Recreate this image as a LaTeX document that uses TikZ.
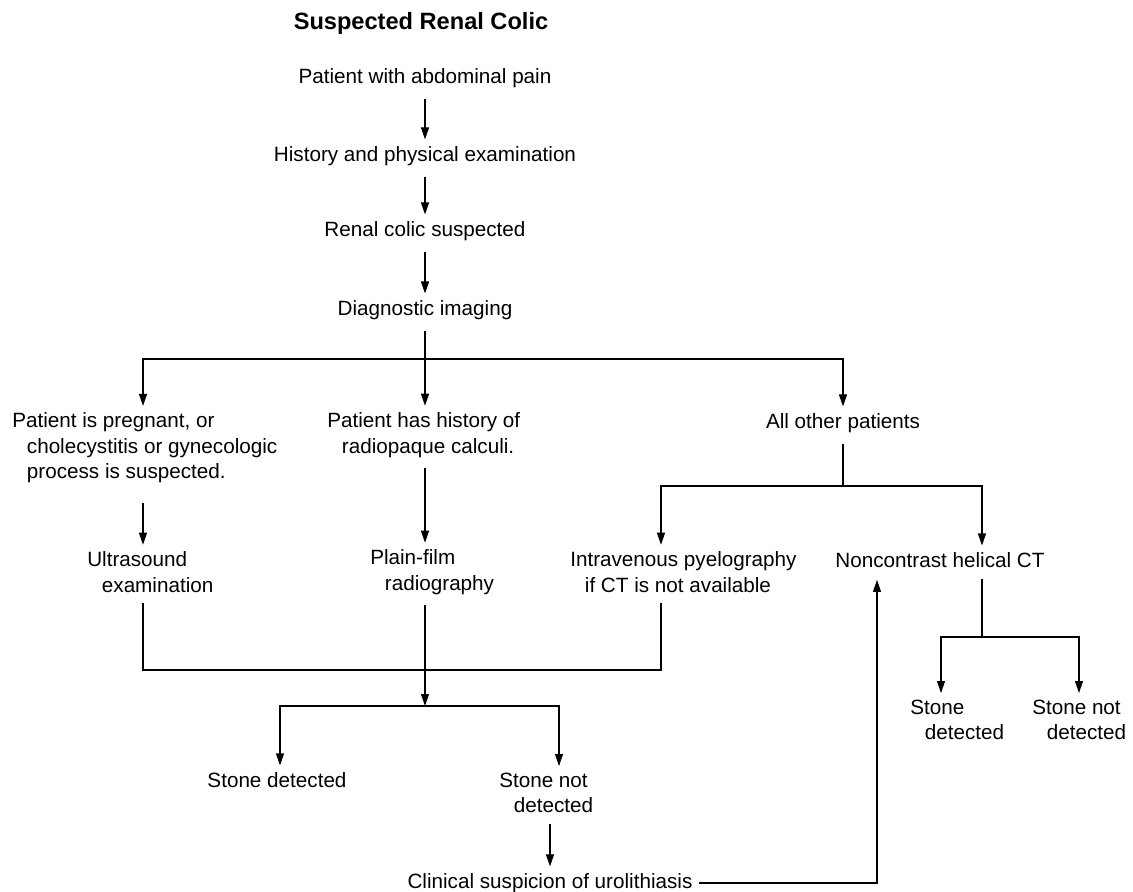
\documentclass[tikz,border=0pt]{standalone}
\usepackage{fontspec}
\setmainfont{Liberation Sans}
\usepackage{tikz}
\usetikzlibrary{arrows.meta}
\newcommand{\ind}{\hspace*{11pt}}

\begin{document}
\begin{tikzpicture}[x=0.75pt, y=-0.75pt,
	every node/.style={inner sep=0pt, font=\fontsize{15.5pt}{19.1pt}\selectfont},
	box/.style={align=left, anchor=west},
	ln/.style={line width=0.8pt},
	arr/.style={ln, -{Triangle[length=9pt,width=6pt]}},
	gap/.style={shorten <=8pt, shorten >=5pt}]
\useasboundingbox (0,0) rectangle (1133,892);

% title and main column
\node[font=\fontsize{17.7pt}{21pt}\selectfont\bfseries] (title) at (421,23) {Suspected Renal Colic};
\node (pain) at (425,78) {Patient with abdominal pain};
\node (exam) at (425,156) {History and physical examination};
\node (colic) at (425,231) {Renal colic suspected};
\node (imaging) at (425,310) {Diagnostic imaging};

% patient groups
\node[box] (pregnant) at (12,448) {Patient is pregnant, or\\\ind cholecystitis or gynecologic\\\ind process is suspected.};
\node[box] (calculi) at (327,435) {Patient has history of\\\ind radiopaque calculi.};
\node (others) at (843,423) {All other patients};

% imaging
\node[box] (us) at (87,572) {Ultrasound\\\ind examination};
\node[box] (xray) at (370,572) {Plain-film\\\ind radiography};
\node[box] (ivp) at (570,572) {Intravenous pyelography\\\ind if CT is not available};
\node (ct) at (940,560) {Noncontrast helical CT};

% results
\node (found) at (277,780) {Stone detected};
\node[box] (notfound) at (499,793) {Stone not\\\ind detected};
\node (suspicion) at (550,883) {Clinical suspicion of urolithiasis};
\node[box] (ctfound) at (910,720) {Stone\\\ind detected};
\node[box] (ctnotfound) at (1032,720) {Stone not\\\ind detected};

% columns and branch points
\coordinate (colL) at (143,0);
\coordinate (colM) at (425,0);
\coordinate (colI) at (661,0);
\coordinate (colC) at (982,0);
\coordinate (colU) at (877,0);
\coordinate (colS) at (280,0);
\coordinate (colN) at (559,0);
\coordinate (colF) at (941,0);
\coordinate (colG) at (1079,0);
\coordinate (split) at (425,359);
\coordinate (split2) at (843,486);
\coordinate (merge) at (425,670);
\coordinate (split3) at (425,706);
\coordinate (split4) at (982,637);

\path[arr,gap]
(pain) edge (exam)
(exam) edge (colic)
(colic) edge (imaging)
;
\draw[arr,gap] (imaging) -- (calculi.north -| colM);
\draw[arr,shorten >=5pt] (split) -| (pregnant.north -| colL);
\draw[arr,shorten >=5pt] (split) -| (others.north);
\draw[arr,shorten <=15pt,shorten >=5pt] (pregnant.south -| colL) -- (us.north -| colL);
\draw[arr,gap] (calculi.south -| colM) -- (xray.north -| colM);
\draw[ln,shorten <=8pt] (others) -- (split2);
\draw[arr,shorten >=5pt] (split2) -| (ivp.north -| colI);
\draw[arr,shorten >=5pt] (split2) -| (ct.north -| colC);
\draw[ln,shorten <=8pt,shorten >=8pt] (us.south -| colL) |- (merge) -| (ivp.south -| colI);
\draw[arr,shorten <=8pt] (xray.south -| colM) -- (split3);
\draw[arr,shorten >=5pt] (split3) -| (found.north -| colS);
\draw[arr,shorten >=5pt] (split3) -| (notfound.north -| colN);
\draw[arr,gap] (notfound.south -| suspicion) -- (suspicion);
\draw[arr,shorten <=5pt,shorten >=9pt] (suspicion.east) -| (ct.south -| colU);
\draw[ln,shorten <=8pt] (ct.south -| colC) -- (split4);
\draw[arr,shorten >=5pt] (split4) -| (ctfound.north -| colF);
\draw[arr,shorten >=5pt] (split4) -| (ctnotfound.north -| colG);
\end{tikzpicture}
\end{document}
